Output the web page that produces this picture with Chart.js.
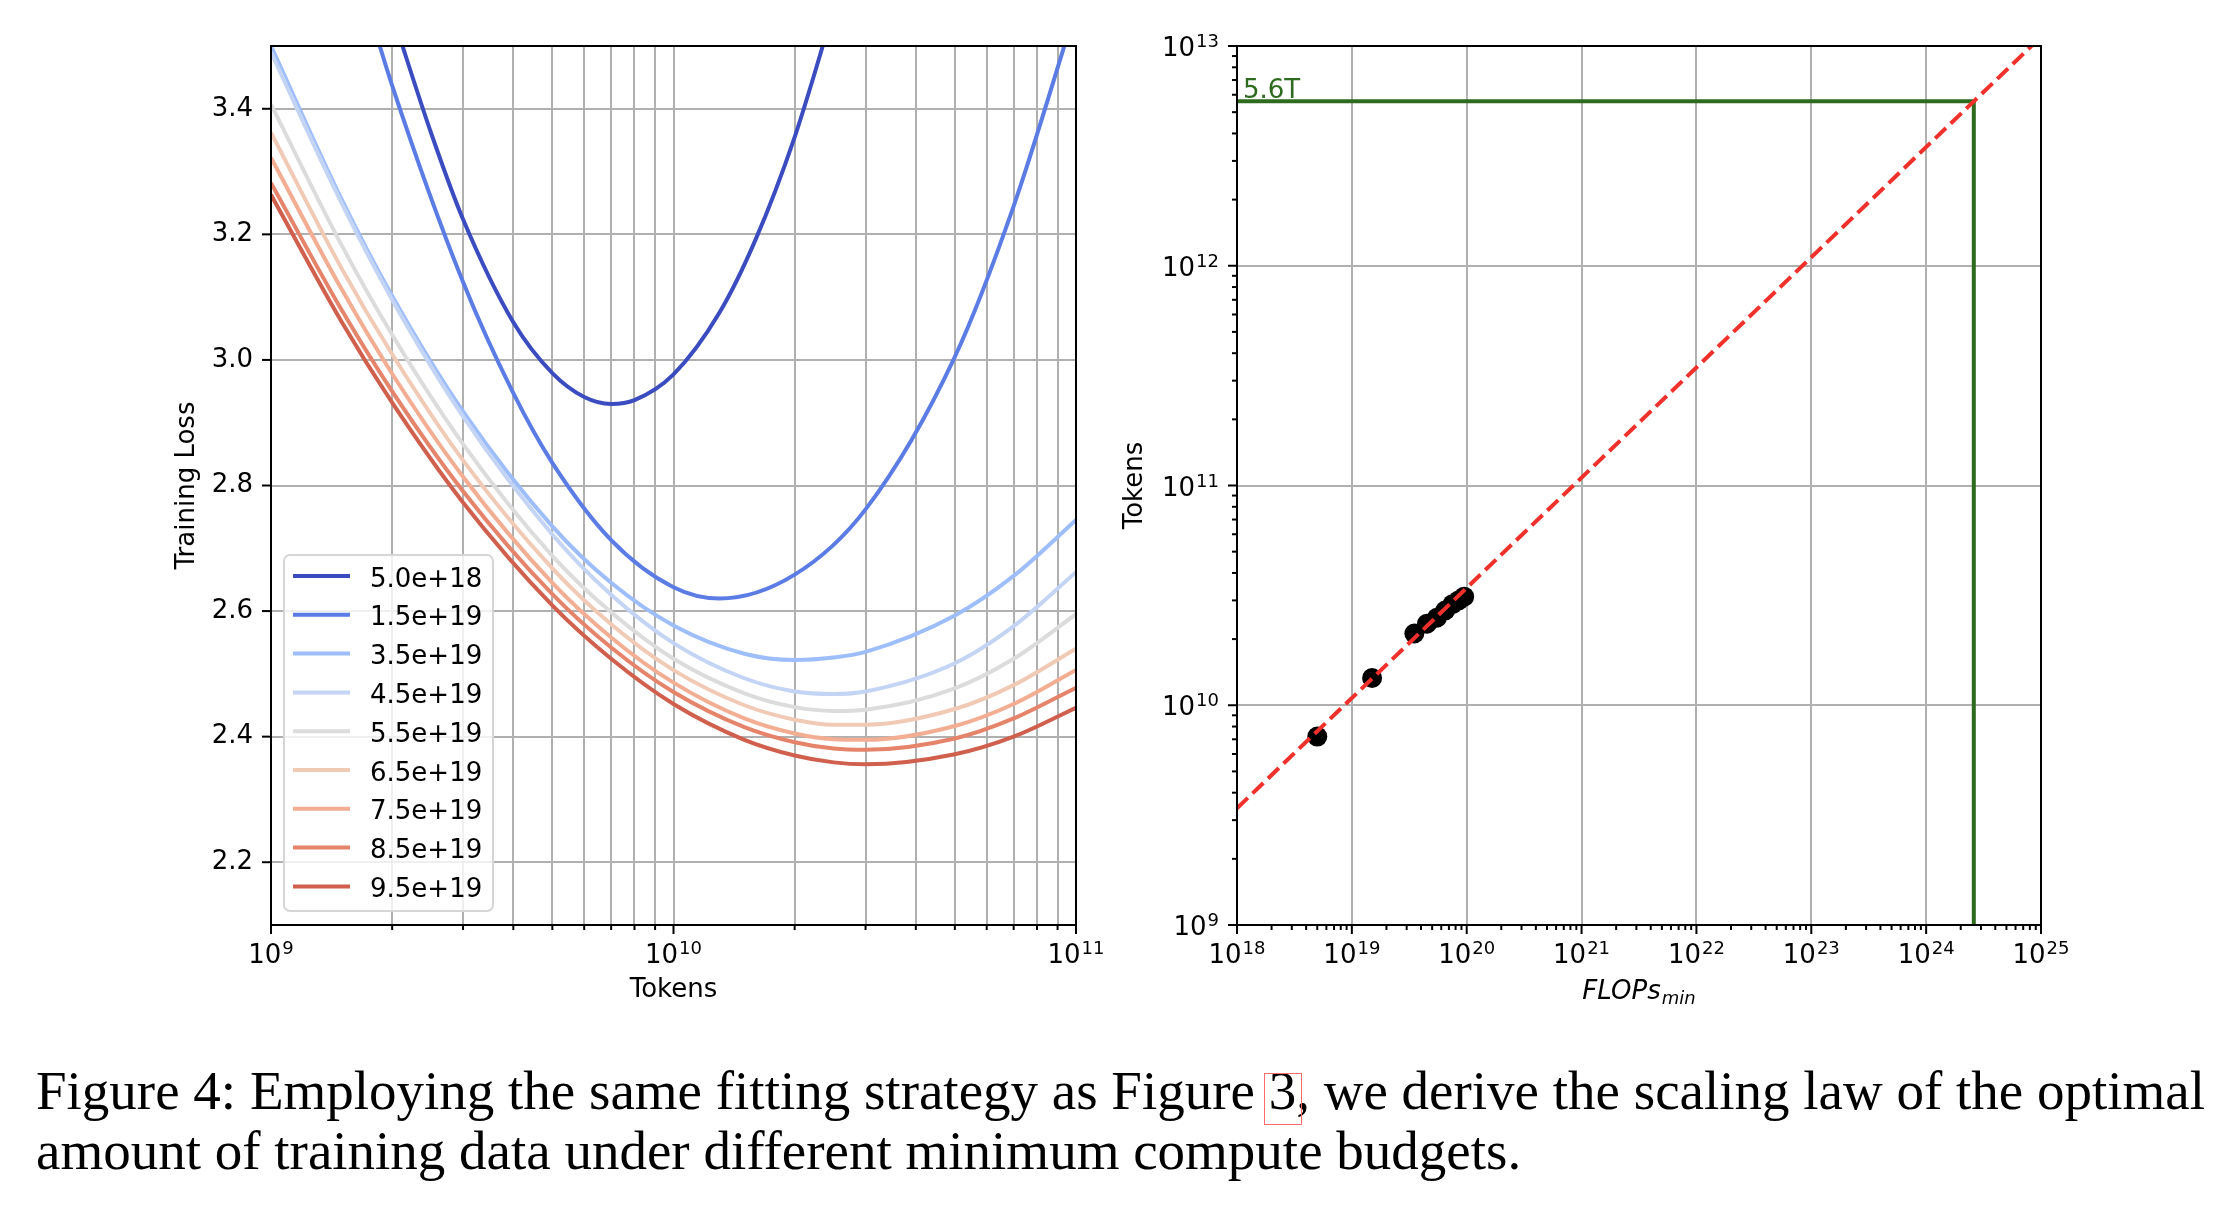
<!DOCTYPE html>
<html>
<head>
<meta charset="utf-8">
<script src="https://cdn.jsdelivr.net/npm/chart.js@4.4.1/dist/chart.umd.min.js"></script>
<style>
  body { margin: 0; background: #fff; width: 2230px; height: 1210px; position: relative; overflow: hidden; }
  #loss { position: absolute; left: 0; top: 0; }
  #flops { position: absolute; left: 1110px; top: 0; }
  .caption { position: absolute; left: 36px; top: 1061px; font-family: "Liberation Serif", "Times New Roman", serif;
             font-size: 55px; line-height: 60px; white-space: nowrap; color: #000; }
  .ref { position: relative; }
  .ref::after { content: ""; position: absolute; left: -5px; right: -6px; top: 13px; bottom: -4px; border: 1.5px solid #ff6a6a; }
</style>
</head>
<body>
<canvas id="loss" width="1110" height="1030"></canvas>
<canvas id="flops" width="1120" height="1030"></canvas>
<div class="caption">Figure 4: Employing the same fitting strategy as Figure <span class="ref">3</span>, we derive the scaling law of the optimal<br>amount of training data under different minimum compute budgets.</div>
<script>
const FONT = '"DejaVu Sans", sans-serif';

// left panel: iso-FLOP loss curves
const budgetLabels = ["5.0e+18", "1.5e+19", "3.5e+19", "4.5e+19", "5.5e+19", "6.5e+19", "7.5e+19", "8.5e+19", "9.5e+19"];
const lineColors = ["#3b4cc0", "#5b7ce5", "#9ebdfb", "#c3d4f4", "#dcdcdc", "#f1cab6", "#f3ad92", "#e5846a", "#d0604d"];

const tokens5e18 = [2.0e9, 2.5e9, 3e9, 4e9, 5e9, 6e9, 7e9, 8e9, 1e10, 1.3e10, 1.6e10, 2e10, 2.5e10];
const loss5e18 = [3.551, 3.361, 3.224, 3.06, 2.979, 2.941, 2.930, 2.936, 2.977, 3.075, 3.192, 3.355, 3.558];

const tokens1p5e19 = [1.7e9, 2e9, 3e9, 4e9, 5e9, 7e9, 1e10, 1.3e10, 2e10, 3e10, 5e10, 7e10, 1e11];
const loss1p5e19 = [3.585, 3.437, 3.124, 2.947, 2.836, 2.713, 2.638, 2.62, 2.658, 2.762, 3.005, 3.245, 3.56];

const tokensWide = [1e9, 1.5e9, 2e9, 3e9, 5e9, 7e9, 1e10, 1.5e10, 2e10, 2.5e10, 3e10, 5e10, 7e10, 1e11];
const loss3p5e19 = [3.500, 3.255, 3.102, 2.918, 2.735, 2.645, 2.577, 2.532, 2.522, 2.526, 2.535, 2.593, 2.656, 2.745];
const loss4p5e19 = [3.490, 3.249, 3.096, 2.910, 2.722, 2.626, 2.549, 2.493, 2.472, 2.468, 2.472, 2.517, 2.576, 2.662];
const loss5p5e19 = [3.407, 3.182, 3.040, 2.866, 2.688, 2.598, 2.524, 2.469, 2.447, 2.441, 2.443, 2.477, 2.524, 2.595];
const loss6p5e19 = [3.362, 3.145, 3.009, 2.840, 2.668, 2.579, 2.506, 2.450, 2.427, 2.419, 2.419, 2.444, 2.482, 2.540];
const loss7p5e19 = [3.322, 3.112, 2.978, 2.814, 2.645, 2.558, 2.486, 2.429, 2.405, 2.396, 2.395, 2.417, 2.452, 2.506];
const loss8p5e19 = [3.282, 3.079, 2.950, 2.791, 2.627, 2.542, 2.471, 2.415, 2.391, 2.381, 2.379, 2.397, 2.429, 2.478];
const loss9p5e19 = [3.263, 3.060, 2.932, 2.773, 2.609, 2.524, 2.452, 2.395, 2.370, 2.359, 2.356, 2.372, 2.400, 2.446];

const lossTicks = [2.2, 2.4, 2.6, 2.8, 3.0, 3.2, 3.4];
const tokenDecades = [9, 10, 11];

// right panel: compute-optimal tokens
const flopsBudgets = [5e18, 1.5e19, 3.5e19, 4.5e19, 5.5e19, 6.5e19, 7.5e19, 8.5e19, 9.5e19];
const optimalTokens = [7.2e9, 1.33e10, 2.12e10, 2.35e10, 2.5e10, 2.7e10, 2.88e10, 3.0e10, 3.12e10];
const fitFlops = [1e18, 1e25];
const fitTokens = [3.4e9, 1.1e13];
const targetFlops = [1e18, 2.6e24, 2.6e24];
const targetTokens = [5.6e12, 5.6e12, 1e9];
const targetLabel = "5.6T";
const flopsDecades = [18, 19, 20, 21, 22, 23, 24, 25];
const tokensDecades = [9, 10, 11, 12, 13];

Chart.defaults.font.family = FONT;
Chart.defaults.font.size = 26;
Chart.defaults.color = "#000";

function logTicks(decades) {
  const out = [];
  for (let i = 0; i < decades.length - 1; i++) {
    for (let m = 1; m < 10; m++) out.push({ value: m * Math.pow(10, decades[i]), major: m === 1 });
  }
  out.push({ value: Math.pow(10, decades[decades.length - 1]), major: true });
  return out;
}

function pts(xs, ys) {
  return xs.map((x, i) => ({ x: x, y: ys[i] }));
}

function powLabel(ctx, exp, x, y, align) {
  ctx.font = "26px " + FONT;
  const wb = ctx.measureText("10").width;
  ctx.font = "18px " + FONT;
  const ws = ctx.measureText(String(exp)).width;
  const total = wb + ws + 1;
  const x0 = align === "center" ? x - total / 2 : x - total;
  ctx.textAlign = "left";
  ctx.textBaseline = "alphabetic";
  ctx.fillStyle = "#000";
  ctx.font = "26px " + FONT;
  ctx.fillText("10", x0, y);
  ctx.font = "18px " + FONT;
  ctx.fillText(String(exp), x0 + wb + 1, y - 9);
}

// frame, tick marks and 10^n labels
const axesDecor = {
  id: "axesDecor",
  afterDatasetsDraw(chart) {
    const { ctx, chartArea: a } = chart;
    ctx.save();
    ctx.strokeStyle = "#000";
    ctx.lineWidth = 2;
    ["x", "y"].forEach(id => {
      const s = chart.scales[id];
      const isLog = s.type === "logarithmic";
      s.ticks.forEach(t => {
        const major = !isLog || t.major;
        const len = major ? 9 : 5;
        const p = s.getPixelForValue(t.value);
        ctx.beginPath();
        if (s.isHorizontal()) { ctx.moveTo(p, a.bottom); ctx.lineTo(p, a.bottom + len); }
        else { ctx.moveTo(a.left - len, p); ctx.lineTo(a.left, p); }
        ctx.stroke();
        if (isLog && t.major) {
          const e = Math.round(Math.log10(t.value));
          if (s.isHorizontal()) powLabel(ctx, e, p, a.bottom + 38, "center");
          else powLabel(ctx, e, a.left - 18, p + 10, "right");
        }
      });
    });
    ctx.strokeRect(a.left, a.top, a.right - a.left, a.bottom - a.top);
    ctx.restore();
  }
};

const lossLegend = {
  id: "lossLegend",
  afterDraw(chart) {
    const { ctx, chartArea: a } = chart;
    const rowH = 38.8, w = 209, h = 356;
    const x0 = a.left + 13, y0 = a.bottom - 14 - h;
    ctx.save();
    ctx.beginPath();
    ctx.roundRect(x0, y0, w, h, 6);
    ctx.fillStyle = "rgba(255,255,255,0.8)";
    ctx.fill();
    ctx.strokeStyle = "#d6d6d6";
    ctx.lineWidth = 2;
    ctx.stroke();
    ctx.font = "26px " + FONT;
    ctx.textAlign = "left";
    ctx.textBaseline = "alphabetic";
    chart.data.datasets.forEach((ds, i) => {
      const y = y0 + 21 + i * rowH;
      ctx.strokeStyle = ds.borderColor;
      ctx.lineWidth = 4;
      ctx.beginPath();
      ctx.moveTo(x0 + 9, y);
      ctx.lineTo(x0 + 66, y);
      ctx.stroke();
      ctx.fillStyle = "#000";
      ctx.fillText(ds.label, x0 + 86, y + 10.5);
    });
    ctx.restore();
  }
};

const flopsText = {
  id: "flopsText",
  afterDraw(chart) {
    const { ctx, chartArea: a, scales } = chart;
    ctx.save();
    ctx.fillStyle = "#2f6b1f";
    ctx.font = "26px " + FONT;
    ctx.textAlign = "left";
    ctx.textBaseline = "alphabetic";
    ctx.fillText(targetLabel, scales.x.getPixelForValue(targetFlops[0]) + 6, scales.y.getPixelForValue(targetTokens[0]) - 3);
    // x title: FLOPs with subscript min
    ctx.fillStyle = "#000";
    ctx.font = "italic 26px " + FONT;
    const w1 = ctx.measureText("FLOPs").width;
    ctx.font = "italic 18px " + FONT;
    const w2 = ctx.measureText("min").width;
    const cx = (a.left + a.right) / 2;
    const xs = cx - (w1 + w2 + 1) / 2;
    ctx.font = "italic 26px " + FONT;
    ctx.fillText("FLOPs", xs, 999);
    ctx.font = "italic 18px " + FONT;
    ctx.fillText("min", xs + w1 + 1, 1004);
    ctx.restore();
  }
};

const lossSeries = [
  pts(tokens5e18, loss5e18),
  pts(tokens1p5e19, loss1p5e19),
  pts(tokensWide, loss3p5e19),
  pts(tokensWide, loss4p5e19),
  pts(tokensWide, loss5p5e19),
  pts(tokensWide, loss6p5e19),
  pts(tokensWide, loss7p5e19),
  pts(tokensWide, loss8p5e19),
  pts(tokensWide, loss9p5e19),
];

new Chart(document.getElementById("loss"), {
  type: "line",
  data: {
    datasets: lossSeries.map((d, i) => ({
      label: budgetLabels[i],
      data: d,
      borderColor: lineColors[i],
      borderWidth: 4,
      pointRadius: 0,
      fill: false,
      cubicInterpolationMode: "monotone",
      clip: 0,
      order: 9 - i,
    })),
  },
  options: {
    responsive: false,
    animation: false,
    layout: { padding: { top: 46, right: 34, left: 0, bottom: 0 } },
    plugins: { legend: { display: false }, tooltip: { enabled: false } },
    scales: {
      x: {
        type: "logarithmic",
        min: 1e9,
        max: 1e11,
        afterBuildTicks: s => { s.ticks = logTicks(tokenDecades); },
        afterFit: s => { s.height = 105; },
        ticks: { display: false },
        grid: { color: "#b0b0b0", lineWidth: 2, drawTicks: false },
        border: { display: false },
        title: { display: true, text: "Tokens", padding: { top: 0, bottom: 24 } },
      },
      y: {
        type: "linear",
        min: 2.1,
        max: 3.5,
        afterBuildTicks: s => { s.ticks = lossTicks.map(v => ({ value: v })); },
        afterFit: s => { s.width = 271; },
        ticks: { padding: 18, callback: v => Number(v).toFixed(1) },
        grid: { color: "#b0b0b0", lineWidth: 2, drawTicks: false },
        border: { display: false },
        title: { display: true, text: "Training Loss", padding: { top: 172, bottom: 0 } },
      },
    },
  },
  plugins: [axesDecor, lossLegend],
});

new Chart(document.getElementById("flops"), {
  type: "scatter",
  data: {
    datasets: [
      {
        label: "fit",
        data: pts(fitFlops, fitTokens),
        showLine: true,
        borderColor: "#f0302a",
        borderWidth: 4,
        borderDash: [15, 6.5],
        pointRadius: 0,
        clip: 0,
        order: 1,
      },
      {
        label: "target",
        data: pts(targetFlops, targetTokens),
        showLine: true,
        borderColor: "#2f6b1f",
        borderWidth: 4,
        pointRadius: 0,
        clip: 0,
        order: 2,
      },
      {
        label: "optimal",
        data: pts(flopsBudgets, optimalTokens),
        pointRadius: 10,
        pointBackgroundColor: "#000",
        pointBorderWidth: 0,
        order: 3,
      },
    ],
  },
  options: {
    responsive: false,
    animation: false,
    layout: { padding: { top: 46, right: 189, left: 0, bottom: 0 } },
    plugins: { legend: { display: false }, tooltip: { enabled: false } },
    scales: {
      x: {
        type: "logarithmic",
        min: 1e18,
        max: 1e25,
        afterBuildTicks: s => { s.ticks = logTicks(flopsDecades); },
        afterFit: s => { s.height = 105; },
        ticks: { display: false },
        grid: { color: c => (c.tick && c.tick.major ? "#b0b0b0" : "rgba(0,0,0,0)"), lineWidth: 2, drawTicks: false },
        border: { display: false },
      },
      y: {
        type: "logarithmic",
        min: 1e9,
        max: 1e13,
        afterBuildTicks: s => { s.ticks = logTicks(tokensDecades); },
        afterFit: s => { s.width = 127; },
        ticks: { display: false },
        grid: { color: c => (c.tick && c.tick.major ? "#b0b0b0" : "rgba(0,0,0,0)"), lineWidth: 2, drawTicks: false },
        border: { display: false },
        title: { display: true, text: "Tokens", padding: { top: 10, bottom: 0 } },
      },
    },
  },
  plugins: [axesDecor, flopsText],
});
</script>
</body>
</html>
